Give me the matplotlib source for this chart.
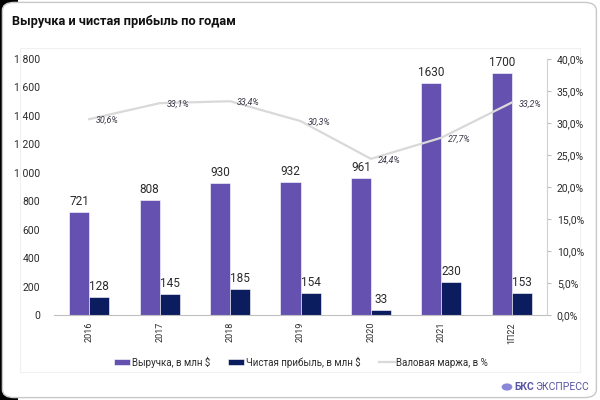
import matplotlib
matplotlib.use("Agg")
import matplotlib.pyplot as plt
from matplotlib.patches import FancyBboxPatch, Rectangle, Circle
from matplotlib.lines import Line2D
from matplotlib.ticker import FuncFormatter, MultipleLocator

plt.rcParams["font.family"] = ["Roboto", "DejaVu Sans"]

# ---- данные ----------------------------------------------------------------
годы = ["2016", "2017", "2018", "2019", "2020", "2021", "1П22"]
выручка = [721, 808, 930, 932, 961, 1630, 1700]
прибыль = [128, 145, 185, 154, 33, 230, 153]
маржа = [30.6, 33.1, 33.4, 30.3, 24.4, 27.7, 33.2]

ФИОЛ = "#6552b0"
СИНИЙ = "#0b1d5e"
СЕРЫЙ = "#d9d9d9"
ТЕКСТ = "#2b2b2b"

fig = plt.figure(figsize=(6, 4), dpi=100)
fig.patch.set_facecolor("white")

# подложка-карточка (под осями)
fig.add_artist(Rectangle((0, 0), 0.03, 1, transform=fig.transFigure,
                         facecolor="black", edgecolor="none", zorder=-3))
fig.add_artist(FancyBboxPatch((0.004, 0.006), 0.99, 0.988,
                              boxstyle="round,pad=0,rounding_size=0.02",
                              transform=fig.transFigure, facecolor="white",
                              edgecolor="#c8c8c8", lw=1.0, zorder=-2))
fig.add_artist(Rectangle((20 / 600, 28 / 400), 560 / 600, 324 / 400,
                         transform=fig.transFigure, facecolor="none",
                         edgecolor="#f0f0f0", lw=0.8, zorder=-1))

fig.text(12 / 600, 1 - 21 / 400, "Выручка и чистая прибыль по годам",
         fontsize=9.2, fontweight="bold", color="#111111", va="center")

ax = fig.add_axes([54 / 600, 85 / 400, 493 / 600, 256 / 400])
ax.set_facecolor("none")
x = list(range(len(годы)))
w = 0.284
b1 = ax.bar([i - w / 2 for i in x], выручка, width=w, color=ФИОЛ,
            edgecolor="white", lw=0.4, zorder=2)
b2 = ax.bar([i + w / 2 for i in x], прибыль, width=w, color=СИНИЙ,
            edgecolor="white", lw=0.4, zorder=2)
for bars in (b1, b2):
    for r in bars:
        ax.annotate(f"{int(r.get_height())}",
                    (r.get_x() + r.get_width() / 2, r.get_height()),
                    xytext=(0, 3), textcoords="offset points",
                    ha="center", va="bottom", fontsize=8.5, color=ТЕКСТ)

ax.set_xlim(-0.5, len(годы) - 0.5)
ax.set_ylim(0, 1800)
ax.yaxis.set_major_locator(MultipleLocator(200))
ax.yaxis.set_major_formatter(FuncFormatter(lambda v, p: f"{int(v):,}".replace(",", " ")))
ax.set_xticks(x)
ax.set_xticklabels(годы, rotation=90, fontsize=6.5, color=ТЕКСТ)
ax.tick_params(axis="y", length=0, labelsize=7.5, labelcolor=ТЕКСТ, pad=10)
ax.tick_params(axis="x", length=0, pad=5)
for s in ("top", "right", "left"):
    ax.spines[s].set_visible(False)
ax.spines["bottom"].set_color("#c0c0c0")

ax2 = ax.twinx()
ax2.plot(x, маржа, color=СЕРЫЙ, lw=1.6, zorder=3)
for i, v in zip(x, маржа):
    ax2.annotate(f"{v:.1f}%".replace(".", ","), (i, v), xytext=(5, -1),
                 textcoords="offset points", ha="left", va="center",
                 fontsize=6.5, style="italic", color="#3a3a4a")
ax2.set_ylim(0, 40)
ax2.yaxis.set_major_locator(MultipleLocator(5))
ax2.yaxis.set_major_formatter(FuncFormatter(lambda v, p: f"{v:.1f}%".replace(".", ",")))
ax2.tick_params(axis="y", length=3, color="#c0c0c0", labelsize=7.5,
                labelcolor=ТЕКСТ, pad=4)
for s in ("top", "left", "bottom"):
    ax2.spines[s].set_visible(False)
ax2.spines["right"].set_color("#d0d0d0")

ручки = [b1, b2, Line2D([], [], color=СЕРЫЙ, lw=1.6)]
fig.legend(ручки, ["Выручка, в млн $", "Чистая прибыль, в млн $",
                   "Валовая маржа, в %"],
           loc="center", bbox_to_anchor=(0.502, 1 - 362 / 400), ncol=3,
           frameon=False, fontsize=7, handlelength=1.65, handleheight=0.6,
           columnspacing=1.9, handletextpad=0.15, labelcolor=ТЕКСТ)

# логотип
fig.add_artist(Circle((507 / 600, 1 - 387 / 400), 0.009,
                      transform=fig.transFigure, facecolor="#8a86d8",
                      edgecolor="none"))
fig.text(514 / 600, 1 - 387 / 400, "БКС", fontsize=7.5, fontweight="bold",
         color="#5a56a6", va="center")
fig.text(535 / 600, 1 - 387 / 400, "ЭКСПРЕСС", fontsize=7.5,
         color="#5a56a6", va="center")

fig.savefig("out.png", dpi=100)
